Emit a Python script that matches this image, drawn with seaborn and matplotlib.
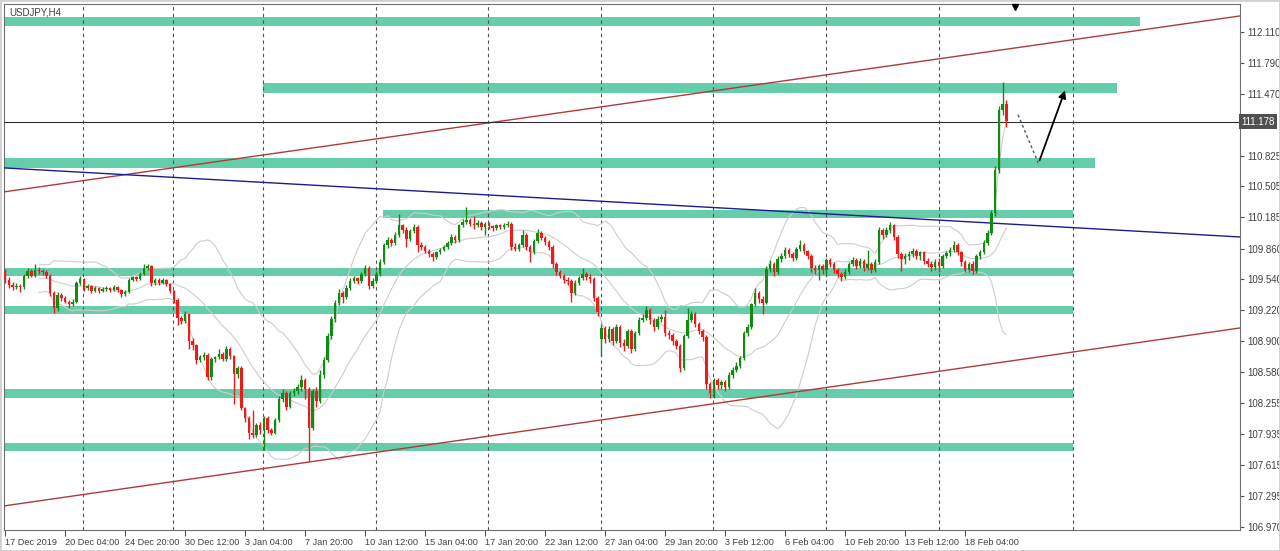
import numpy as np
import pandas as pd
import seaborn as sns
import matplotlib
matplotlib.use("Agg")
import matplotlib.pyplot as plt
import matplotlib.transforms as mtransforms
from matplotlib.patches import Rectangle

# USDJPY H4 candles, bar 0 = 17 Dec 2019 (one value per bar)
first_open = 109.62
closes = [
    # 17-20 Dec
    109.53, 109.48, 109.46, 109.47, 109.46, 109.58, 109.63, 109.58, 109.64, 109.63, 109.62, 109.58, 109.40, 109.24, 109.38, 109.35, 109.31, 109.28, 109.31, 109.50, 109.54,
    # 23-27 Dec
    109.45, 109.47, 109.42, 109.45, 109.42, 109.44, 109.45, 109.43, 109.46, 109.43, 109.39, 109.41, 109.53, 109.56, 109.54, 109.60, 109.66, 109.68, 109.50, 109.53, 109.50, 109.53, 109.49, 109.42,
    # 30 Dec - 3 Jan
    109.33, 109.14, 109.11, 109.18, 108.90, 108.86, 108.70, 108.73, 108.76, 108.53, 108.71, 108.73, 108.77, 108.71, 108.82, 108.74, 108.56, 108.62, 108.20, 108.10, 107.95, 107.92, 108.03, 107.98,
    # 6-10 Jan
    108.10, 107.98, 107.95, 108.08, 108.30, 108.36, 108.22, 108.36, 108.38, 108.42, 108.50, 108.40, 108.00, 108.38, 108.28, 108.55, 108.70, 108.95, 109.13, 109.30, 109.40, 109.36, 109.45, 109.52, 109.55, 109.52, 109.60, 109.66, 109.47, 109.52,
    # 13-17 Jan
    109.60, 109.72, 109.90, 109.95, 109.92, 110.00, 110.10, 110.05, 109.96, 110.04, 110.08, 109.90, 109.88, 109.84, 109.80, 109.77, 109.82, 109.85, 109.88, 109.92, 109.98, 109.95, 110.10, 110.14, 110.16, 110.12, 110.10, 110.13, 110.08, 110.12,
    # 20-24 Jan
    110.09, 110.07, 110.10, 110.08, 110.11, 110.12, 109.88, 109.86, 109.90, 110.00, 109.88, 109.82, 109.94, 110.02, 109.97, 109.93, 109.88, 109.70, 109.62, 109.58, 109.53, 109.52, 109.40, 109.50, 109.55, 109.60, 109.56, 109.54, 109.35, 109.20,
    # 27-31 Jan
    109.04, 108.92, 109.03, 108.90, 109.05, 108.88, 108.85, 109.00, 108.82, 108.98, 109.12, 109.14, 109.22, 109.12, 109.05, 109.13, 109.15, 108.98, 108.96, 108.90, 108.85, 108.62, 108.95, 109.12, 109.18, 109.08, 109.00, 108.94, 108.45, 108.36,
    # 3-7 Feb
    108.50, 108.44, 108.48, 108.42, 108.55, 108.60, 108.64, 108.72, 108.98, 109.05, 109.28, 109.40, 109.34, 109.30, 109.65, 109.70, 109.62, 109.75, 109.78, 109.85, 109.80, 109.76, 109.86, 109.90, 109.83, 109.78, 109.66, 109.64, 109.68, 109.64,
    # 10-14 Feb
    109.74, 109.70, 109.64, 109.60, 109.56, 109.62, 109.70, 109.74, 109.68, 109.73, 109.66, 109.70, 109.64, 109.72, 110.05, 110.00, 110.05, 110.10, 109.98, 109.80, 109.75, 109.78, 109.80, 109.84, 109.78, 109.82, 109.73, 109.70, 109.67, 109.72,
    # 17-20 Feb
    109.68, 109.78, 109.81, 109.85, 109.90, 109.82, 109.72, 109.64, 109.70, 109.63, 109.78, 109.82, 109.92, 110.02, 110.23, 110.68, 111.30, 111.36, 111.18,
]
highs = [
    109.65, 109.56, 109.51, 109.50, 109.49, 109.60, 109.66, 109.65, 109.70, 109.67, 109.65, 109.64, 109.60, 109.42, 109.41, 109.40, 109.37, 109.33, 109.34, 109.52, 109.58,
    109.55, 109.49, 109.48, 109.47, 109.46, 109.46, 109.47, 109.46, 109.48, 109.47, 109.44, 109.43, 109.55, 109.58, 109.58, 109.62, 109.70, 109.70, 109.69, 109.55, 109.55, 109.55, 109.54, 109.50,
    109.43, 109.35, 109.16, 109.21, 109.19, 108.93, 108.87, 108.76, 108.79, 108.78, 108.73, 108.75, 108.82, 108.79, 108.85, 108.84, 108.76, 108.64, 108.64, 108.22, 108.12, 108.18, 108.05, 108.06,
    108.12, 108.12, 108.00, 108.10, 108.33, 108.40, 108.38, 108.38, 108.41, 108.45, 108.55, 108.52, 108.42, 108.40, 108.42, 108.60, 108.73, 108.98, 109.16, 109.33, 109.44, 109.42, 109.48, 109.55, 109.58, 109.57, 109.62, 109.69, 109.68, 109.55,
    109.63, 109.75, 109.92, 109.98, 109.97, 110.03, 110.22, 110.12, 110.08, 110.06, 110.12, 110.10, 109.93, 109.90, 109.86, 109.82, 109.84, 109.87, 109.90, 109.94, 110.01, 110.00, 110.12, 110.17, 110.29, 110.18, 110.20, 110.16, 110.15, 110.14,
    110.14, 110.11, 110.12, 110.12, 110.13, 110.15, 110.14, 109.92, 109.92, 110.05, 110.02, 109.90, 109.96, 110.06, 110.04, 109.99, 109.95, 109.90, 109.72, 109.64, 109.60, 109.56, 109.54, 109.53, 109.58, 109.66, 109.62, 109.60, 109.56, 109.37,
    109.08, 109.06, 109.06, 109.05, 109.08, 109.07, 108.92, 109.03, 109.02, 109.00, 109.15, 109.18, 109.26, 109.24, 109.14, 109.16, 109.18, 109.22, 109.01, 108.98, 108.92, 108.87, 108.97, 109.24, 109.21, 109.20, 109.10, 109.02, 108.96, 108.48,
    108.52, 108.52, 108.50, 108.50, 108.58, 108.63, 108.68, 108.75, 109.00, 109.08, 109.30, 109.45, 109.42, 109.37, 109.68, 109.74, 109.72, 109.78, 109.81, 109.88, 109.87, 109.82, 109.88, 109.95, 109.92, 109.85, 109.80, 109.69, 109.70, 109.70,
    109.76, 109.76, 109.72, 109.66, 109.62, 109.65, 109.72, 109.77, 109.76, 109.76, 109.75, 109.85, 109.72, 109.75, 110.08, 110.07, 110.08, 110.14, 110.12, 110.00, 109.82, 109.81, 109.83, 109.87, 109.86, 109.84, 109.84, 109.76, 109.73, 109.75,
    109.76, 109.80, 109.84, 109.88, 109.94, 109.92, 109.84, 109.74, 109.72, 109.73, 109.80, 109.85, 109.95, 110.05, 110.26, 110.72, 111.34, 111.59, 111.40,
]
lows = [
    109.50, 109.45, 109.43, 109.44, 109.41, 109.44, 109.55, 109.56, 109.56, 109.60, 109.59, 109.55, 109.37, 109.19, 109.21, 109.32, 109.29, 109.24, 109.26, 109.29, 109.48,
    109.42, 109.43, 109.40, 109.41, 109.40, 109.41, 109.42, 109.41, 109.42, 109.41, 109.36, 109.37, 109.40, 109.52, 109.52, 109.53, 109.59, 109.64, 109.47, 109.48, 109.48, 109.49, 109.47, 109.40,
    109.30, 109.07, 109.08, 109.09, 108.82, 108.81, 108.66, 108.68, 108.70, 108.50, 108.50, 108.68, 108.71, 108.69, 108.69, 108.71, 108.25, 108.52, 108.18, 108.06, 107.88, 107.89, 107.90, 107.94,
    107.77, 107.95, 107.92, 107.93, 108.06, 108.27, 108.18, 108.20, 108.33, 108.35, 108.38, 108.30, 107.65, 107.98, 108.22, 108.26, 108.52, 108.68, 108.92, 109.10, 109.27, 109.30, 109.34, 109.43, 109.50, 109.49, 109.50, 109.58, 109.44, 109.45,
    109.50, 109.58, 109.70, 109.87, 109.89, 109.90, 109.98, 110.02, 109.88, 109.94, 110.02, 109.82, 109.85, 109.81, 109.77, 109.73, 109.75, 109.80, 109.83, 109.86, 109.90, 109.92, 109.93, 110.08, 110.12, 110.09, 110.06, 110.08, 110.05, 110.00,
    110.06, 110.04, 110.05, 110.06, 110.06, 110.08, 109.85, 109.83, 109.84, 109.88, 109.85, 109.72, 109.80, 109.92, 109.95, 109.90, 109.85, 109.66, 109.59, 109.55, 109.50, 109.48, 109.31, 109.38, 109.48, 109.53, 109.53, 109.50, 109.32, 109.16,
    108.74, 108.88, 108.89, 108.86, 108.88, 108.84, 108.80, 108.83, 108.78, 108.80, 108.96, 109.10, 109.12, 109.08, 109.00, 109.02, 109.10, 108.95, 108.92, 108.86, 108.82, 108.58, 108.60, 108.93, 109.10, 109.05, 108.97, 108.90, 108.40, 108.31,
    108.31, 108.40, 108.40, 108.38, 108.40, 108.52, 108.58, 108.62, 108.70, 108.95, 109.03, 109.26, 109.30, 109.18, 109.28, 109.62, 109.58, 109.60, 109.72, 109.76, 109.77, 109.73, 109.74, 109.84, 109.80, 109.75, 109.62, 109.60, 109.53, 109.60,
    109.58, 109.67, 109.61, 109.57, 109.52, 109.54, 109.60, 109.68, 109.65, 109.66, 109.63, 109.64, 109.61, 109.62, 109.70, 109.96, 109.98, 110.02, 109.95, 109.76, 109.63, 109.70, 109.74, 109.77, 109.75, 109.74, 109.70, 109.67, 109.63, 109.64,
    109.62, 109.66, 109.76, 109.78, 109.82, 109.79, 109.68, 109.62, 109.62, 109.60, 109.61, 109.75, 109.80, 109.90, 110.00, 110.20, 110.65, 111.25, 111.12,
]
gap_bar, gap_open = 159, 108.92  # Monday 27 Jan opened with a gap

# support / resistance zones: (left bar, right bar, low, high)
zone_left = [-0.3, 68.8, -0.3, 100.8, -0.3, -0.3, -0.3, -0.3]
zone_right = [302.7, 296.5, 290.7, 284.8, 284.8, 284.8, 284.8, 284.8]
zone_low = [112.17, 111.48, 110.70, 110.18, 109.58, 109.18, 108.31, 107.76]
zone_high = [112.27, 111.58, 110.80, 110.26, 109.66, 109.26, 108.40, 107.84]

# trend lines: (bar, price) end points
upper_channel = ([-0.3, 329.3], [110.449, 112.276])
lower_channel = ([-0.3, 329.3], [107.188, 109.036])
blue_line = ([-0.3, 329.3], [110.698, 109.981])

current_price = 111.178
week_lines = [20.8, 44.8, 68.8, 98.8, 128.8, 158.8, 188.8, 219.0, 249.0, 284.8]
tick_bars = list(range(0, 257, 16))
tick_labels = ["17 Dec 2019", "20 Dec 04:00", "24 Dec 20:00", "30 Dec 12:00", "3 Jan 04:00",
               "7 Jan 20:00", "10 Jan 12:00", "15 Jan 04:00", "17 Jan 20:00", "22 Jan 12:00",
               "27 Jan 04:00", "29 Jan 20:00", "3 Feb 12:00", "6 Feb 04:00", "10 Feb 20:00",
               "13 Feb 12:00", "18 Feb 04:00"]
price_ticks = [112.110, 111.790, 111.470, 110.825, 110.505, 110.185, 109.860, 109.540,
               109.220, 108.900, 108.580, 108.255, 107.935, 107.615, 107.295, 106.970]

# build candles
df = pd.DataFrame({"close": closes, "high": highs, "low": lows})
df["bar"] = np.arange(len(df))
df["open"] = [first_open] + closes[:-1]
df.loc[gap_bar, "open"] = gap_open
df["high"] = df[["high", "open", "close"]].max(axis=1)
df["low"] = df[["low", "open", "close"]].min(axis=1)
df["up"] = df["close"] >= df["open"]

# bollinger bands (20, 2)
roll = df["close"].rolling(20, min_periods=10)
df["bb_mid"] = roll.mean()
df["bb_up"] = df["bb_mid"] + 2 * roll.std(ddof=0)
df["bb_lo"] = df["bb_mid"] - 2 * roll.std(ddof=0)

sns.set_theme(style="white")
plt.rcParams["font.family"] = ["Liberation Sans", "DejaVu Sans"]

fig = plt.figure(figsize=(12.8, 5.51), dpi=100)
ax = fig.add_axes([4 / 1280, 21 / 551, 1236 / 1280, 526 / 551])
ax.set_xlim(-0.3, 329.3)
ax.set_ylim(106.938, 112.40)

zone_color = "#66CDAA"
for x0, x1, lo, hi in zip(zone_left, zone_right, zone_low, zone_high):
    ax.add_patch(Rectangle((x0, lo), x1 - x0, hi - lo, color=zone_color, lw=0, zorder=1))

for wl in week_lines:
    ax.axvline(wl, color="#505050", lw=0.8, ls=(0, (3, 3)), zorder=2)

for col in ["bb_up", "bb_mid", "bb_lo"]:
    sns.lineplot(data=df, x="bar", y=col, ax=ax, color="#cdcdcd", lw=0.8, zorder=3)

ax.plot(*upper_channel, color="#b03a3a", lw=1, zorder=3)
ax.plot(*lower_channel, color="#b03a3a", lw=1, zorder=3)
ax.plot(*blue_line, color="#1c1c8c", lw=1, zorder=3)
ax.axhline(current_price, color="#303030", lw=0.8, zorder=3)

colors = np.where(df["up"], "#138a13", "#ee1b1b")
ax.vlines(df["bar"], df["low"], df["high"], colors=colors, lw=1, zorder=4)
body_low = df[["open", "close"]].min(axis=1)
body_h = (df["close"] - df["open"]).abs().clip(lower=0.01)
ax.bar(df["bar"], body_h, bottom=body_low, width=0.72, color=colors, lw=0, zorder=5)

# forecast arrows
ax.plot([270.1, 275.5], [111.25, 110.75], ls=(0, (2, 2)), color="#555555", lw=1, zorder=6)
ax.annotate("", xy=(282.9, 111.53), xytext=(275.6, 110.75),
            arrowprops=dict(arrowstyle="-|>", color="black", lw=1.3, mutation_scale=11), zorder=6)
ax.plot([269.3], [112.37], marker="v", color="black", ms=5, clip_on=False, zorder=7)

# axes styling, MT4 look
ax.set_xlabel("")
ax.set_ylabel("")
ax.yaxis.tick_right()
ax.set_yticks(price_ticks)
ax.set_yticklabels([f"{v:.3f}" for v in price_ticks])
ax.set_xticks(tick_bars)
ax.set_xticklabels(tick_labels, ha="left")
ax.tick_params(axis="y", right=True, left=False, length=3, width=0.8, color="#505050",
               labelsize=7, labelcolor="#404040", pad=2, direction="out")
ax.tick_params(axis="x", bottom=True, length=4, width=0.8, color="#505050",
               labelsize=6.6, labelcolor="#404040", pad=2, direction="out")
for s in ax.spines.values():
    s.set_visible(True)
    s.set_color("#707070")
    s.set_linewidth(0.8)

ax.text(0.004, 0.993, "USDJPY,H4", transform=ax.transAxes, va="top", ha="left",
        fontsize=7, color="#404040", zorder=8)
trans = mtransforms.blended_transform_factory(ax.transAxes, ax.transData)
ax.text(1.0 + 1 / 1236, current_price, f"{current_price:.3f}", transform=trans, va="center",
        ha="left", fontsize=7, color="white", clip_on=False, zorder=8,
        bbox=dict(facecolor="#505050", edgecolor="none", boxstyle="square,pad=0.25"))

fig.add_artist(Rectangle((0, 0), 1, 1, transform=fig.transFigure, fill=False,
                         ec="#d0d0d0", lw=2))
fig.savefig("out.png", dpi=100)
